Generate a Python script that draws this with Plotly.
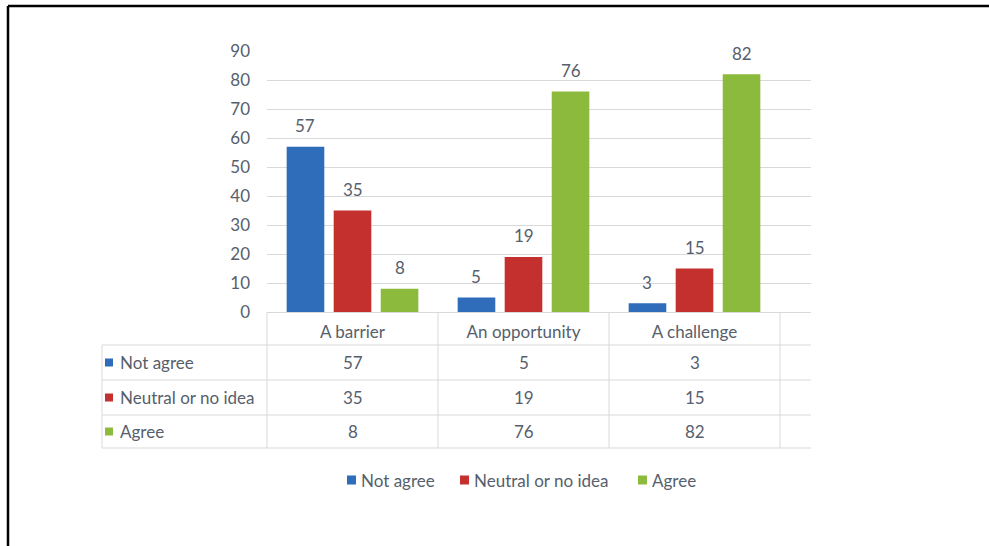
import plotly.graph_objects as go

# Survey responses (%) per perception category
categories = ["A barrier", "An opportunity", "A challenge"]
series_names = ["Not agree", "Neutral or no idea", "Agree"]
not_agree = [57, 5, 3]
neutral = [35, 19, 15]
agree = [8, 76, 82]
y_ticks = [0, 10, 20, 30, 40, 50, 60, 70, 80, 90]

series_values = [not_agree, neutral, agree]
colors = ["#2f6cb9", "#c3302e", "#8cba3c"]

FONT = "Lato"
FS = 17
TEXT = "#56606c"
GRID = "#d9d9d9"

W, H = 989, 546
L, R, T, B = 267, 811, 51, 312   # plot area in page pixels
CAT_W = 171                         # pixel width of one category column
BARGAP, GROUPGAP = 0.175, 0.2


def px(x):
    return (x - L) / (R - L)


def py(y):
    return (B - y) / (B - T)


fig = go.Figure()
for name, vals, col in zip(series_names, series_values, colors):
    fig.add_trace(go.Bar(
        name=name, x=categories, y=vals,
        marker=dict(color=col, line=dict(width=0)),
        hoverinfo="x+y+name", showlegend=False,
    ))

shapes = []
annotations = []
font = dict(family=FONT, size=FS, color=TEXT)

# value labels above each bar
slot = CAT_W * (1 - BARGAP) / len(series_names)
for si, vals in enumerate(series_values):
    offset = (si - (len(series_names) - 1) / 2) * slot
    for ci, v in enumerate(vals):
        annotations.append(dict(
            x=ci, y=v, xref="x", yref="y", text=str(v), showarrow=False,
            xshift=offset, yshift=21, yanchor="middle", font=font,
        ))

# data table under the axis
line = dict(color=GRID, width=1)
row_edges = [345, 380, 415, 448]
for yy in row_edges:
    shapes.append(dict(type="line", xref="paper", yref="paper",
                       x0=px(102), x1=px(811), y0=py(yy), y1=py(yy), line=line))
shapes.append(dict(type="line", xref="paper", yref="paper",
                   x0=px(102), x1=px(102), y0=py(345), y1=py(448), line=line))
for k in range(len(categories) + 1):
    xx = L + k * CAT_W
    shapes.append(dict(type="line", xref="paper", yref="paper",
                       x0=px(xx), x1=px(xx), y0=py(312), y1=py(448), line=line))

for si, (name, vals, col) in enumerate(zip(series_names, series_values, colors)):
    yc = (row_edges[si] + row_edges[si + 1]) / 2
    shapes.append(dict(type="rect", xref="paper", yref="paper",
                       x0=px(105), x1=px(113), y0=py(yc + 4), y1=py(yc - 4),
                       fillcolor=col, line=dict(width=0)))
    annotations.append(dict(
        x=px(118), y=py(yc), xref="paper", yref="paper", text=name,
        showarrow=False, xanchor="left", yanchor="middle", font=font,
    ))
    for ci, v in enumerate(vals):
        annotations.append(dict(
            x=ci, y=py(yc), xref="x", yref="paper",
            text=str(v), showarrow=False, xanchor="center", yanchor="middle",
            font=font,
        ))

# legend row below the table
legend_keys_x = [347, 460, 638]
legend_y = 480
for name, col, kx in zip(series_names, colors, legend_keys_x):
    shapes.append(dict(type="rect", xref="paper", yref="paper",
                       x0=px(kx), x1=px(kx + 9), y0=py(legend_y + 4.5),
                       y1=py(legend_y - 4.5), fillcolor=col, line=dict(width=0)))
    annotations.append(dict(
        x=px(kx + 12), y=py(legend_y), xref="paper", yref="paper", text=name,
        showarrow=False, xanchor="left", yanchor="middle", font=font,
    ))

# outer frame
shapes.append(dict(type="line", xref="paper", yref="paper",
                   x0=px(8), x1=px(989), y0=py(6), y1=py(6),
                   line=dict(color="#000000", width=2.5)))
shapes.append(dict(type="line", xref="paper", yref="paper",
                   x0=px(8), x1=px(8), y0=py(6), y1=py(546),
                   line=dict(color="#000000", width=2.5)))

fig.update_layout(
    width=W, height=H,
    margin=dict(l=L, r=W - R, t=T, b=H - B),
    paper_bgcolor="white", plot_bgcolor="white",
    barmode="group", bargap=BARGAP, bargroupgap=GROUPGAP,
    font=font,
    shapes=shapes, annotations=annotations,
    xaxis=dict(
        type="category", range=[-0.5, -0.5 + (R - L) / CAT_W],
        showgrid=False, zeroline=False, showline=True, linecolor=GRID,
        ticks="", ticklabelstandoff=5, tickfont=font,
    ),
    yaxis=dict(
        range=[0, 90], tickvals=y_ticks, showgrid=True, gridcolor=GRID,
        zeroline=False, showline=False, ticks="", ticklabelstandoff=16,
        tickfont=font,
    ),
)

fig.write_html("out.html")
